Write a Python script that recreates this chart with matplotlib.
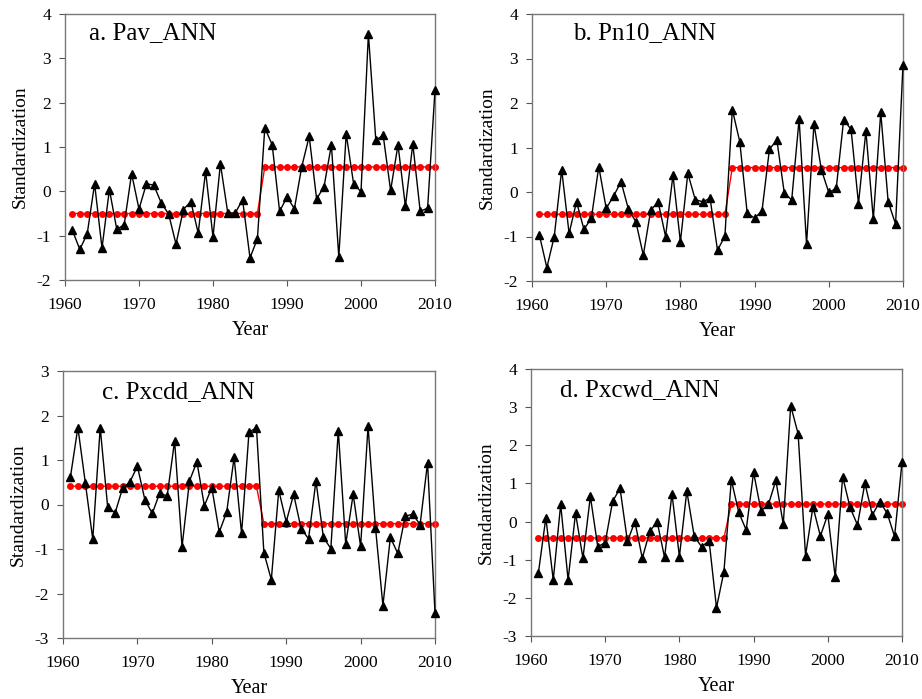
import matplotlib
matplotlib.use("Agg")
import matplotlib.pyplot as plt
import numpy as np

years = list(range(1961, 2011))

pav = [-0.88, -1.31, -0.96, 0.17, -1.28, 0.04, -0.86, -0.75, 0.40, -0.40,
       0.17, 0.14, -0.26, -0.51, -1.19, -0.41, -0.23, -0.94, 0.45, -1.03,
       0.62, -0.49, -0.49, -0.19, -1.50, -1.07, 1.43, 1.05, -0.45, -0.13,
       -0.39, 0.56, 1.24, -0.17, 0.10, 1.05, -1.48, 1.30, 0.17, -0.01,
       3.55, 1.16, 1.26, 0.02, 1.05, -0.34, 1.07, -0.45, -0.38, 2.29]
pav_shift = [-0.50] * 26 + [0.55] * 24

pn10 = [-0.97, -1.70, -1.00, 0.50, -0.93, -0.22, -0.84, -0.59, 0.57, -0.37,
        -0.09, 0.23, -0.39, -0.67, -1.42, -0.41, -0.22, -1.00, 0.38, -1.12,
        0.42, -0.17, -0.22, -0.14, -1.31, -0.99, 1.85, 1.13, -0.47, -0.59,
        -0.42, 0.96, 1.17, -0.02, -0.18, 1.64, -1.17, 1.53, 0.50, -0.01,
        0.08, 1.62, 1.41, -0.26, 1.37, -0.61, 1.79, -0.22, -0.72, 2.86]
pn10_shift = [-0.50] * 26 + [0.55] * 24

pxcdd = [0.62, 1.73, 0.49, -0.78, 1.73, -0.05, -0.19, 0.36, 0.51, 0.86,
         0.11, -0.20, 0.26, 0.19, 1.43, -0.95, 0.53, 0.96, -0.03, 0.38,
         -0.62, -0.17, 1.06, -0.65, 1.62, 1.73, -1.08, -1.69, 0.32, -0.39,
         0.23, -0.54, -0.77, 0.53, -0.74, -0.99, 1.66, -0.89, 0.23, -0.94,
         1.76, -0.52, -2.27, -0.74, -1.10, -0.26, -0.22, -0.45, 0.94, -2.44]
pxcdd_shift = [0.41] * 26 + [-0.43] * 24

pxcwd = [-1.34, 0.10, -1.53, 0.45, -1.53, 0.22, -0.96, 0.66, -0.66, -0.55,
         0.53, 0.87, -0.52, 0.00, -0.96, -0.26, 0.00, -0.94, 0.73, -0.92,
         0.80, -0.39, -0.66, -0.50, -2.26, -1.31, 1.09, 0.24, -0.22, 1.29,
         0.28, 0.45, 1.08, -0.07, 3.04, 2.30, -0.89, 0.39, -0.38, 0.19,
         -1.46, 1.18, 0.37, -0.09, 1.01, 0.17, 0.52, 0.22, -0.39, 1.55]
pxcwd_shift = [-0.43] * 26 + [0.46] * 24

titles = ["a. Pav_ANN", "b. Pn10_ANN", "c. Pxcdd_ANN", "d. Pxcwd_ANN"]
series = [pav, pn10, pxcdd, pxcwd]
shifts = [pav_shift, pn10_shift, pxcdd_shift, pxcwd_shift]
ylims = [(-2, 4), (-2, 4), (-3, 3), (-3, 4)]
xticks = [1960, 1970, 1980, 1990, 2000, 2010]

plt.rcParams['font.family'] = 'serif'
plt.rcParams['font.serif'] = ['Liberation Serif', 'DejaVu Serif']
plt.rcParams['axes.unicode_minus'] = False

W, H = 922, 699
fig = plt.figure(figsize=(W / 100, H / 100), dpi=100)

# axes boxes in pixels: left, top, right, bottom
boxes = [(65, 14, 435, 280), (532, 14, 903, 281),
         (63, 371, 435, 638), (531, 369, 902, 636)]
title_pos = [(0.065, 0.93), (0.11, 0.93), (0.105, 0.92), (0.078, 0.92)]

for i in range(4):
    l, t, r, b = boxes[i]
    ax = fig.add_axes([l / W, 1 - b / H, (r - l) / W, (b - t) / H])
    ax.plot(years, shifts[i], color='red', lw=1.0, marker='o', ms=5,
            markeredgewidth=0, zorder=2, clip_on=False)
    ax.plot(years, series[i], color='black', lw=1.0, marker='^', ms=6,
            zorder=3, clip_on=False)
    ax.set_xlim(1960, 2010)
    ax.set_ylim(*ylims[i])
    ax.set_xticks(xticks)
    ax.set_yticks(np.arange(ylims[i][0], ylims[i][1] + 1))
    ax.tick_params(axis='both', direction='out', length=4, width=0.8,
                   color='#555555', labelsize=12.5)
    ax.tick_params(axis='x', pad=8)
    ax.tick_params(axis='y', pad=6)
    for s in ax.spines.values():
        s.set_color('#777777')
        s.set_linewidth(1.0)
    ax.set_xlabel("Year", fontsize=14.5, labelpad=6)
    ax.set_ylabel("Standardization", fontsize=14, labelpad=6)
    ax.text(title_pos[i][0], title_pos[i][1], titles[i], transform=ax.transAxes,
            fontsize=18, ha='left', va='center')

fig.savefig("out.png", dpi=100)
